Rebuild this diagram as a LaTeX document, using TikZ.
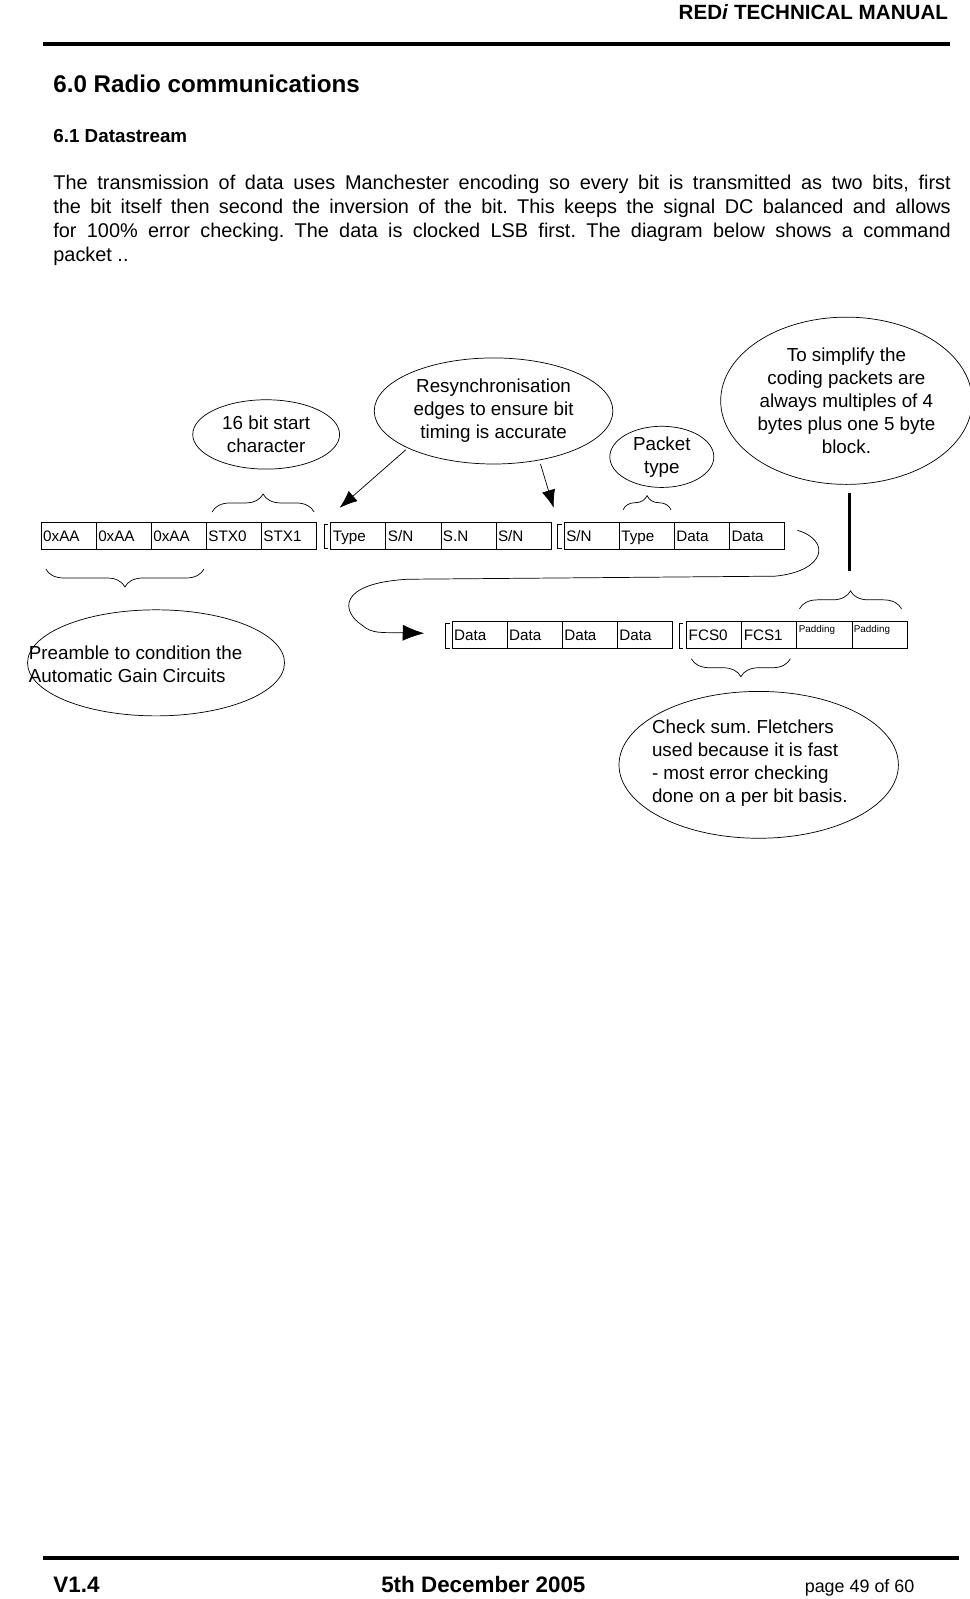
\documentclass[tikz,border=0pt]{standalone}
\usepackage{fontspec}
\setmainfont{Liberation Sans}
\usetikzlibrary{decorations.pathreplacing,arrows.meta,shapes.geometric}
\tikzset{
  cell/.style={draw,minimum width=54*0.02cm,minimum height=26*0.02cm,inner sep=1pt,font=\fontsize{8.5}{9}\selectfont,anchor=north west,text height=6pt,text depth=0pt},
  smallcell/.style={cell,font=\fontsize{5.5}{6}\selectfont},
  bubble/.style={draw,ellipse,font=\fontsize{10.5}{12.8}\selectfont,align=center,inner sep=0pt},
  brace/.style={decorate,decoration={brace,amplitude=10pt}},
}
\frenchspacing
\begin{document}
\begin{tikzpicture}[x=0.02cm,y=-0.02cm]
  \useasboundingbox (0,0) rectangle (951,1568);
  % header
  \node[anchor=base east,font=\bfseries\fontsize{11.5}{13}\selectfont,inner sep=0pt] (hdr) at (930,19) {RED\textit{i} TECHNICAL MANUAL};
  \draw[line width=2.5pt] (42,43) -- (932,43);
  \node[anchor=base west,font=\bfseries\fontsize{13.5}{15}\selectfont,inner sep=0pt] (sec) at (52,91) {6.0 Radio communications};
  \node[anchor=base west,font=\bfseries\fontsize{10.5}{12}\selectfont,inner sep=0pt] (sub) at (52,140) {6.1 Datastream};
  \node[anchor=north west,inner sep=0pt,text width=880*0.02cm,align=justify,font=\fontsize{11.1}{13.4}\selectfont] (para) at (52,171)
    {The transmission of data uses Manchester encoding so every bit is transmitted as two bits, first\linebreak the bit itself then second the inversion of the bit. This keeps the signal DC balanced and allows\linebreak for 100\% error checking. The data is clocked LSB first. The diagram below shows a command\linebreak packet ..};

  % row 1
  \foreach \t [count=\i from 0] in {0xAA,0xAA,0xAA,STX0,STX1}
    \node[cell,text width=50*0.02cm] (a\i) at (40+54*\i,512) {\t};
  \foreach \t [count=\i from 0] in {Type,S/N,S.N,S/N}
    \node[cell,text width=50*0.02cm] (b\i) at (324+54*\i,512) {\t};
  \foreach \t [count=\i from 0] in {S/N,Type,Data,Data}
    \node[cell,text width=50*0.02cm] (c\i) at (553+54*\i,512) {\t};
  \draw (322,514) -- (318,514) -- (318,538) -- (322,538);
  \draw (551,514) -- (547,514) -- (547,538) -- (551,538);
  % row 2
  \foreach \t [count=\i from 0] in {Data,Data,Data,Data}
    \node[cell,text width=50*0.02cm] (d\i) at (443+54*\i,609) {\t};
  \foreach \t [count=\i from 0] in {FCS0,FCS1}
    \node[cell,text width=50*0.02cm] (e\i) at (673+54*\i,609) {\t};
  \foreach \i in {0,1}
    \node[smallcell,text width=50*0.02cm,text height=5pt,text depth=8pt] (p\i) at (781+54*\i,609) {Padding};
  \draw (441,611) -- (437,611) -- (437,636) -- (441,636);
  \draw (670,611) -- (666,611) -- (666,636) -- (670,636);

  % bubbles
  \node[bubble,minimum width=144*0.02cm,minimum height=68*0.02cm] (start) at (261,426) {16 bit start\\character};
  \node[bubble,minimum width=234*0.02cm,minimum height=104*0.02cm] (resync) at (484,403) {Resynchronisation\\edges to ensure bit\\timing is accurate};
  \node[bubble,minimum width=102*0.02cm,minimum height=60*0.02cm] (ptype) at (649,448) {Packet\\type};
  \node[bubble,minimum width=236*0.02cm,minimum height=164*0.02cm] (simp) at (830,393) {To simplify the\\coding packets are\\always multiples of 4\\bytes plus one 5 byte\\block.};
  \node[bubble,minimum width=252*0.02cm,minimum height=104*0.02cm] (pre) at (153,650) {};
  \node[anchor=west,font=\fontsize{10.5}{12.8}\selectfont,align=left,inner sep=0pt] (pretxt) at (28,651) {Preamble to condition the\\Automatic Gain Circuits};
  \node[bubble,minimum width=274*0.02cm,minimum height=144*0.02cm] (chk) at (744,750) {};
  \node[anchor=west,font=\fontsize{10.5}{12.8}\selectfont,align=left,inner sep=0pt] (chktxt) at (639,748) {Check sum. Fletchers\\used because it is fast\\- most error checking\\done on a per bit basis.};

  % braces
  \draw[brace] (208,502) -- (308,502);
  \draw[brace] (200,558) -- (45,558);
  \draw[brace,decoration={amplitude=8pt}] (611,500) -- (658,500);
  \draw[brace] (784,597) -- (884,597);
  \draw[brace] (775,646) -- (678,646);

  % pointers
  \coordinate (r0) at (398,441);
  \coordinate (r1) at (333,498);
  \coordinate (r2) at (543,498);
  \draw[-{Latex[length=10pt]}] (r0) -- (r1);
  \draw[-{Latex[length=10pt]}] (530,455) -- (r2);
  \draw[line width=1.2pt] (833,483) -- (833,560);

  % wrap connector
  \coordinate (w) at (416,621);
  \draw[-{Latex[length=12pt]}] (782,520) .. controls (815,530) and (810,560) .. (760,565)
     -- (400,568) .. controls (330,572) and (335,600) .. (355,613)
     .. controls (365,622) and (375,620) .. (w);

  % footer
  \draw[line width=2.5pt] (42,1528) -- (940,1528);
  \node[anchor=base west,font=\bfseries\fontsize{12.5}{14}\selectfont,inner sep=0pt] (ver) at (52,1562) {V1.4};
  \node[anchor=base,font=\bfseries\fontsize{12.5}{14}\selectfont,inner sep=0pt] (date) at (474,1562) {5th December 2005};
  \node[anchor=base east,font=\fontsize{10}{12}\selectfont,inner sep=0pt] (pg) at (897,1562) {page 49 of 60};
\end{tikzpicture}
\end{document}
